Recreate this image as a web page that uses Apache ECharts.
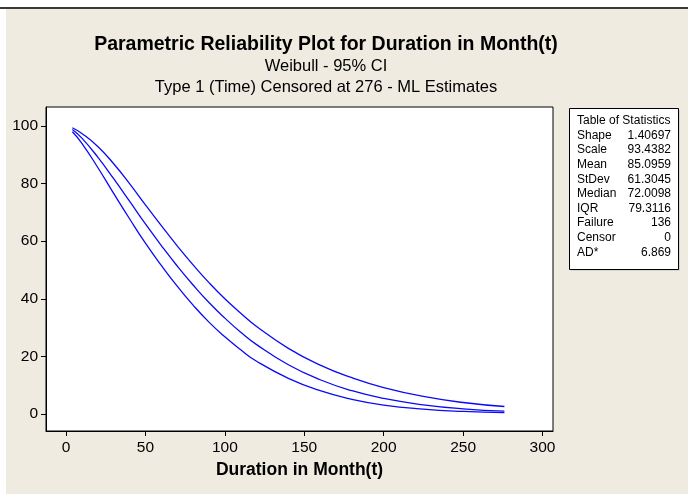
<!DOCTYPE html>
<html>
<head>
<meta charset="utf-8">
<script src="https://cdn.jsdelivr.net/npm/echarts@6/dist/echarts.min.js"></script>
<style>
html,body{margin:0;padding:0;background:#ffffff;}
#chart{width:688px;height:494px;}
</style>
</head>
<body>
<div id="chart"></div>
<script>
// ---- data ----
var durationT   = [4, 10, 20, 30, 40, 50, 60, 70, 80, 90, 100, 110, 120, 140, 160, 180, 200, 225, 250, 276];
var reliability = [98.8, 95.8, 89.2, 81.7, 73.9, 66.0, 58.5, 51.4, 44.8, 38.7, 33.3, 28.4, 24.1, 17.1, 11.9, 8.1, 5.4, 3.2, 1.8, 1.0];
var lowerCI     = [98.0, 94.0, 85.6, 76.6, 67.8, 59.3, 51.6, 44.4, 37.8, 31.9, 26.8, 22.3, 18.3, 12.4, 8.1, 5.1, 3.1, 1.7, 0.9, 0.45];
var upperCI     = [99.4, 97.4, 92.9, 86.9, 80.0, 72.6, 65.4, 58.4, 51.8, 45.6, 40.0, 35.0, 30.4, 22.8, 17.0, 12.6, 9.2, 6.1, 4.0, 2.6];

var xTicks = [0, 50, 100, 150, 200, 250, 300];
var yTicks = [0, 20, 40, 60, 80, 100];

var titleText = 'Parametric Reliability Plot for Duration in Month(t)';
var subtitle1 = 'Weibull - 95% CI';
var subtitle2 = 'Type 1 (Time) Censored at 276 - ML Estimates';
var xAxisTitle = 'Duration in Month(t)';

var statHeader = 'Table of Statistics';
var statLabels = ['Shape', 'Scale', 'Mean', 'StDev', 'Median', 'IQR', 'Failure', 'Censor', 'AD*'];
var statValues = ['1.40697', '93.4382', '85.0959', '61.3045', '72.0098', '79.3116', '136', '0', '6.869'];

// ---- build ----
function pairs(ys) { return durationT.map(function (t, i) { return [t, ys[i]]; }); }

var FONT = 'Liberation Sans';
var LINE = '#0a0af5';

var graphics = [
  { type: 'rect', shape: { x: 6, y: 9, width: 690, height: 490 }, style: { fill: '#efebe1' }, z: -10 },
  { type: 'rect', shape: { x: 0, y: 7, width: 688, height: 2 }, style: { fill: '#3a3a3a' }, z: -9 },
  { type: 'text', x: 326, y: 45, style: { text: titleText, font: 'bold 19.5px ' + FONT, fill: '#000', align: 'center', verticalAlign: 'middle' } },
  { type: 'text', x: 326, y: 66, style: { text: subtitle1, font: '16.5px ' + FONT, fill: '#000', align: 'center', verticalAlign: 'middle' } },
  { type: 'text', x: 326, y: 87, style: { text: subtitle2, font: '16.5px ' + FONT, fill: '#000', align: 'center', verticalAlign: 'middle' } },
  // statistics box shadow and box
  { type: 'rect', shape: { x: 571, y: 110, width: 109, height: 161 }, style: { fill: '#d8d5cc' } },
  { type: 'rect', shape: { x: 569.5, y: 108.5, width: 109, height: 161 }, style: { fill: '#ffffff', stroke: '#000', lineWidth: 1 } },
  { type: 'text', x: 577, y: 121, style: { text: statHeader, font: '12px ' + FONT, fill: '#000', align: 'left', verticalAlign: 'middle' } }
];
statLabels.forEach(function (lab, i) {
  var y = 135.5 + i * 14.6;
  graphics.push({ type: 'text', x: 577, y: y, style: { text: lab, font: '12px ' + FONT, fill: '#000', align: 'left', verticalAlign: 'middle' } });
  graphics.push({ type: 'text', x: 671, y: y, style: { text: statValues[i], font: '12px ' + FONT, fill: '#000', align: 'right', verticalAlign: 'middle' } });
});

var chart = echarts.init(document.getElementById('chart'), null, { renderer: 'canvas' });
chart.setOption({
  backgroundColor: 'transparent',
  animation: false,
  grid: {
    left: 46, top: 107, right: 135, bottom: 63,
    show: true, backgroundColor: '#ffffff', borderColor: '#000', borderWidth: 1
  },
  xAxis: {
    type: 'value', min: -12.6, max: 306.6,
    name: xAxisTitle, nameLocation: 'middle', nameGap: 27,
    nameTextStyle: { fontFamily: FONT, fontWeight: 'bold', fontSize: 17.5, color: '#000' },
    axisLine: { show: true, onZero: false, lineStyle: { color: '#000', width: 1 } },
    axisTick: { show: true, length: 5, lineStyle: { color: '#000' }, customValues: xTicks },
    axisLabel: { customValues: xTicks, fontFamily: FONT, fontSize: 15.5, color: '#000', margin: 9 },
    splitLine: { show: false }
  },
  yAxis: {
    type: 'value', min: -5.9, max: 106.6,
    axisLine: { show: true, onZero: false, lineStyle: { color: '#000', width: 1 } },
    axisTick: { show: true, length: 5, lineStyle: { color: '#000' }, customValues: yTicks },
    axisLabel: { customValues: yTicks, fontFamily: FONT, fontSize: 15.5, color: '#000', margin: 8 },
    splitLine: { show: false }
  },
  series: [
    { name: 'Upper', type: 'line', data: pairs(upperCI), smooth: true, showSymbol: false, lineStyle: { color: LINE, width: 1.3 } },
    { name: 'Reliability', type: 'line', data: pairs(reliability), smooth: true, showSymbol: false, lineStyle: { color: LINE, width: 1.3 } },
    { name: 'Lower', type: 'line', data: pairs(lowerCI), smooth: true, showSymbol: false, lineStyle: { color: LINE, width: 1.3 } }
  ],
  graphic: graphics
});
</script>
</body>
</html>
